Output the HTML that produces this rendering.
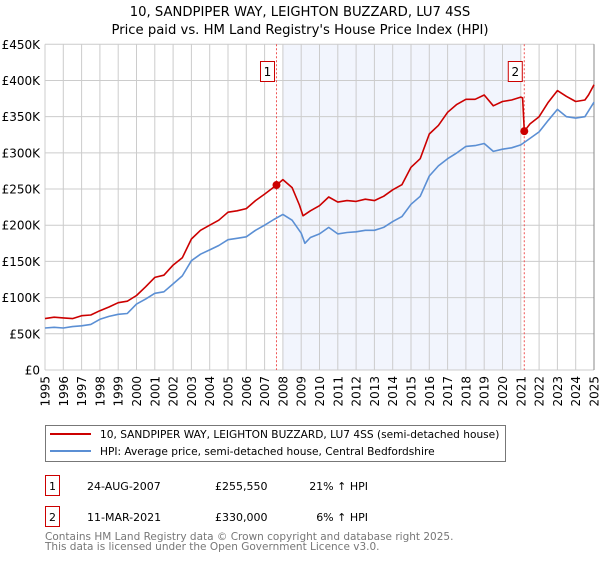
<!DOCTYPE html>
<html><head><meta charset="utf-8"><style>
body{margin:0;background:#fff;font-family:"Liberation Sans","DejaVu Sans",sans-serif;}
svg text{font-family:"DejaVu Sans","Liberation Sans",sans-serif;}
</style></head><body>
<svg id="chart" width="600" height="560" xmlns="http://www.w3.org/2000/svg">
<text x="300" y="16" text-anchor="middle" font-size="13.2">10, SANDPIPER WAY, LEIGHTON BUZZARD, LU7 4SS</text>
<text x="300" y="34" text-anchor="middle" font-size="13.2">Price paid vs. HM Land Registry's House Price Index (HPI)</text>
<g id="grid"></g><g id="marks"></g><g id="axes"></g>
<g>
<rect x="45.5" y="425.5" width="460" height="36" fill="#fff" stroke="#777"/>
<line x1="50" y1="434" x2="91" y2="434" stroke="#cc0000" stroke-width="2"/>
<text x="100" y="438" font-size="10.6">10, SANDPIPER WAY, LEIGHTON BUZZARD, LU7 4SS (semi-detached house)</text>
<line x1="50" y1="451" x2="91" y2="451" stroke="#5b8fd4" stroke-width="2"/>
<text x="100" y="455" font-size="10.6">HPI: Average price, semi-detached house, Central Bedfordshire</text>
</g>
<g font-size="11">
<rect x="45.5" y="475.5" width="14" height="20" fill="#fff" stroke="#cc0000"/><text x="52.5" y="490" text-anchor="middle">1</text>
<text x="87" y="490">24-AUG-2007</text><text x="215" y="490">£255,550</text><text x="368" y="490" text-anchor="end">21% ↑ HPI</text>
<rect x="45.5" y="506.5" width="14" height="20" fill="#fff" stroke="#cc0000"/><text x="52.5" y="521" text-anchor="middle">2</text>
<text x="87" y="521">11-MAR-2021</text><text x="215" y="521">£330,000</text><text x="368" y="521" text-anchor="end">6% ↑ HPI</text>
</g>
<text x="45" y="540" font-size="10.5" fill="#777">Contains HM Land Registry data © Crown copyright and database right 2025.</text>
<text x="45" y="550" font-size="10.5" fill="#777">This data is licensed under the Open Government Licence v3.0.</text>
</svg>
<script>
const yTicks=[0,50,100,150,200,250,300,350,400,450];
const yTickLabels=["£0","£50K","£100K","£150K","£200K","£250K","£300K","£350K","£400K","£450K"];
const xYears=[1995,1996,1997,1998,1999,2000,2001,2002,2003,2004,2005,2006,2007,2008,2009,2010,2011,2012,2013,2014,2015,2016,2017,2018,2019,2020,2021,2022,2023,2024,2025];
const redT=[1995,1995.5,1996,1996.5,1997,1997.5,1998,1998.5,1999,1999.5,2000,2000.5,2001,2001.5,2002,2002.5,2003,2003.5,2004,2004.5,2005,2005.5,2006,2006.5,2007,2007.65,2008,2008.5,2008.9,2009.1,2009.5,2010,2010.5,2011,2011.5,2012,2012.5,2013,2013.5,2014,2014.5,2015,2015.5,2016,2016.5,2017,2017.5,2018,2018.5,2019,2019.5,2020,2020.5,2021,2021.1,2021.19,2021.5,2022,2022.5,2023,2023.5,2024,2024.5,2024.7,2025];
const redV=[71,73,72,71,75,76,82,87,93,95,103,115,128,131,145,155,181,193,200,207,218,220,223,234,243,255.5,263,252,228,213,220,227,239,232,234,233,236,234,240,249,256,280,292,326,338,356,367,374,374,380,365,371,373,377,376,330,340,350,370,386,378,371,373,380,394];
const blueT=[1995,1995.5,1996,1996.5,1997,1997.5,1998,1998.5,1999,1999.5,2000,2000.5,2001,2001.5,2002,2002.5,2003,2003.5,2004,2004.5,2005,2005.5,2006,2006.5,2007,2007.5,2008,2008.5,2009,2009.2,2009.5,2010,2010.5,2011,2011.5,2012,2012.5,2013,2013.5,2014,2014.5,2015,2015.5,2016,2016.5,2017,2017.5,2018,2018.5,2019,2019.5,2020,2020.5,2021,2021.5,2022,2022.5,2023,2023.5,2024,2024.5,2025];
const blueV=[58,59,58,60,61,63,70,74,77,78,91,98,106,108,119,130,151,160,166,172,180,182,184,193,200,208,215,207,189,175,183,188,197,188,190,191,193,193,197,205,212,229,240,268,282,292,300,309,310,313,302,305,307,311,320,329,345,360,350,348,350,370];
const sales=[{t:2007.65,v:255.55,n:"1"},{t:2021.19,v:330,n:"2"}];
const x0=45,x1=594,y0=370,y1=44.3;
const X=t=>x0+(t-1995)/30*(x1-x0);
const Y=v=>y0-v/450*(y0-y1);
const NS="http://www.w3.org/2000/svg";
function mk(tag,parent,attrs){const e=document.createElementNS(NS,tag);for(const k in attrs)e.setAttribute(k,attrs[k]);parent.appendChild(e);return e;}
const grid=document.getElementById('grid'),marks=document.getElementById('marks'),axes=document.getElementById('axes');
const shade=mk('rect',grid,{x:X(2008),y:y1,width:X(2021)-X(2008),height:y0-y1,fill:'#f2f5fd'});


xYears.forEach(yr=>{const l=mk('line',grid,{x1:X(yr),x2:X(yr),y1:y1,y2:y0,stroke:'#cccccc','stroke-width':1});


const tx=mk('text',axes,{x:0,y:0,'font-size':12,'text-anchor':'end',transform:`translate(${X(yr)+4.5},376) rotate(-90)`});tx.textContent=yr;

});
yTicks.forEach((v,i)=>{const l=mk('line',grid,{x1:x0,x2:x1,y1:Y(v),y2:Y(v),stroke:'#cccccc','stroke-width':1});


const tx=mk('text',axes,{x:40,y:Y(v)+4.5,'font-size':12,'text-anchor':'end'});tx.textContent=yTickLabels[i];

});
const rb=mk('line',grid,{x1:x1,x2:x1,y1:y1,y2:y0,stroke:'#888','stroke-width':1});


sales.forEach(s=>{const l=mk('line',marks,{x1:X(s.t),x2:X(s.t),y1:y1,y2:y0,stroke:'#ee5555','stroke-width':1,'stroke-dasharray':'2,2'});

});
function path(T,V,col,name){const d=T.map((t,i)=>(i?'L':'M')+X(t).toFixed(1)+','+Y(V[i]).toFixed(1)).join('');
const p=mk('path',marks,{d:d,fill:'none',stroke:col,'stroke-width':1.6,'stroke-linejoin':'round'});

}
path(blueT,blueV,'#5b8fd4','hpi-line');
path(redT,redV,'#cc0000','property-price-line');
sales.forEach(s=>{const c=mk('circle',marks,{cx:X(s.t),cy:Y(s.v),r:4,fill:'#cc0000'});


const bx=X(s.t)-9;
const r=mk('rect',marks,{x:bx-7,y:61.5,width:14,height:20,fill:'#fff',stroke:'#cc0000'});


const t=mk('text',marks,{x:bx,y:76,'font-size':12,'text-anchor':'middle'});t.textContent=s.n;

});
</script>
</body></html>
